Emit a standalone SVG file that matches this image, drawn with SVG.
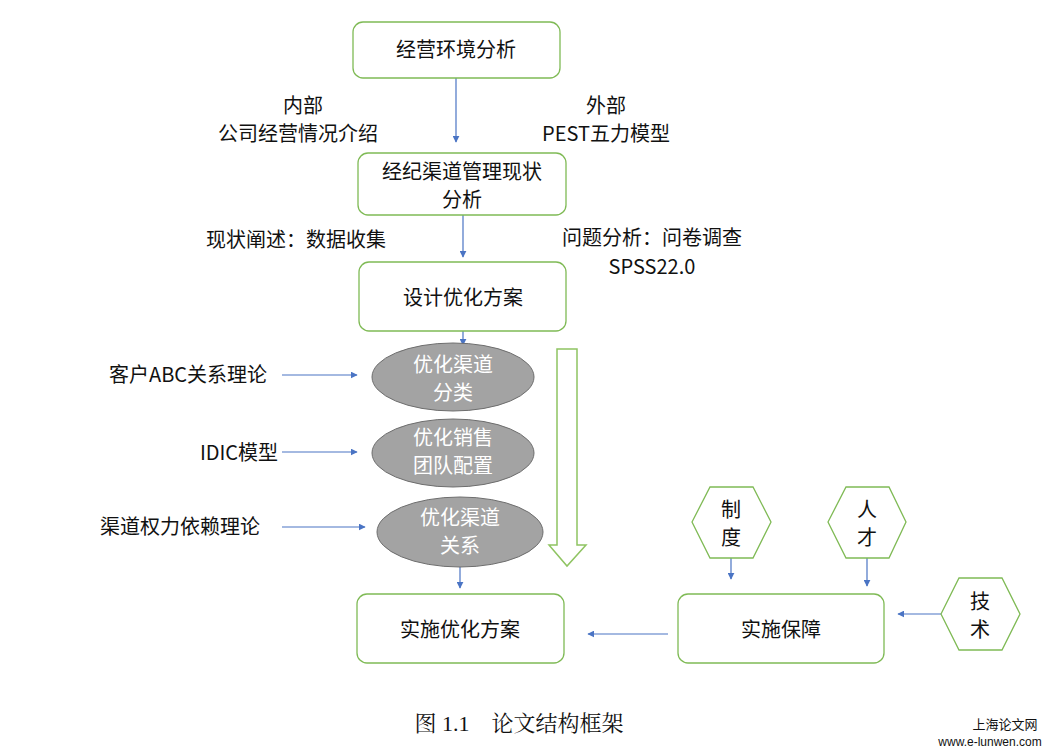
<svg xmlns="http://www.w3.org/2000/svg" width="1048" height="754" viewBox="0 0 1048 754">
<defs>
<style>
.box{fill:#fff;stroke:#7fba55;stroke-width:1.3}
.hex{fill:#fff;stroke:#7fba55;stroke-width:1.3}
.ell{fill:#a3a3a3;stroke:#6e6e6e;stroke-width:1}
.t{font-family:"Noto Sans CJK SC","Liberation Sans",sans-serif;font-size:20px;fill:#111;text-anchor:middle}
.tw{font-family:"Noto Sans CJK SC","Liberation Sans",sans-serif;font-size:20px;fill:#fff;text-anchor:middle}
.c{stroke:#4a74c4;stroke-width:1.2;fill:none;marker-end:url(#ah)}
.cap{font-family:"Liberation Serif","Noto Serif CJK SC","Noto Sans CJK SC",serif;font-size:22px;fill:#111;text-anchor:middle}
</style>
<marker id="ah" viewBox="0 0 10 10" refX="9" refY="5" markerWidth="7" markerHeight="7" orient="auto" markerUnits="userSpaceOnUse"><path d="M0,0 L10,5 L0,10 Z" fill="#4a74c4"/></marker>
</defs>
<rect width="1048" height="754" fill="#fff"/>
<g id="connectors">
<line class="c" x1="456" y1="78" x2="456" y2="142"/>
<line class="c" x1="463" y1="215" x2="463" y2="257"/>
<line class="c" x1="463" y1="331" x2="463" y2="345"/>
<line class="c" x1="282" y1="375" x2="357" y2="375"/>
<line class="c" x1="282" y1="452" x2="357" y2="452"/>
<line class="c" x1="282" y1="527" x2="365" y2="527"/>
<line class="c" x1="460" y1="567" x2="460" y2="588"/>
<line class="c" x1="668" y1="634" x2="588" y2="634"/>
<line class="c" x1="731" y1="558" x2="731" y2="579"/>
<line class="c" x1="867" y1="558" x2="867" y2="586"/>
<line class="c" x1="941" y1="614" x2="898" y2="614"/>
</g>
<g id="flow-arrow"><path d="M557,349 H577 V545 H586 L567,566 L549,545 H557 Z" fill="#fff" stroke="#8fc462" stroke-width="1.5"/></g>
<g id="n1"><rect class="box" x="353" y="22" width="207" height="56" rx="10"/><text class="t" x="456" y="57">经营环境分析</text></g>
<g id="lbl-inner"><text class="t" x="303" y="113">内部</text><text class="t" x="298" y="141">公司经营情况介绍</text></g>
<g id="lbl-outer"><text class="t" x="606" y="113">外部</text><text class="t" x="606" y="141">PEST五力模型</text></g>
<g id="n2"><rect class="box" x="358" y="153" width="208" height="62" rx="10"/><text class="t" x="462" y="179">经纪渠道管理现状</text><text class="t" x="462" y="207">分析</text></g>
<g id="lbl-status"><text class="t" x="296" y="247">现状阐述：数据收集</text></g>
<g id="lbl-problem"><text class="t" x="652" y="245">问题分析：问卷调查</text><text class="t" x="652" y="274">SPSS22.0</text></g>
<g id="n3"><rect class="box" x="359" y="262" width="207" height="69" rx="10"/><text class="t" x="463" y="305">设计优化方案</text></g>
<g id="e1"><ellipse class="ell" cx="453" cy="377" rx="81" ry="34"/><text class="tw" x="453" y="372">优化渠道</text><text class="tw" x="453" y="400">分类</text></g>
<g id="e2"><ellipse class="ell" cx="453" cy="453" rx="81" ry="34"/><text class="tw" x="453" y="445">优化销售</text><text class="tw" x="453" y="473">团队配置</text></g>
<g id="e3"><ellipse class="ell" cx="460" cy="532" rx="83" ry="35"/><text class="tw" x="460" y="525">优化渠道</text><text class="tw" x="460" y="553">关系</text></g>
<g id="l1"><text class="t" x="188" y="382">客户ABC关系理论</text></g>
<g id="l2"><text class="t" x="239" y="460">IDIC模型</text></g>
<g id="l3"><text class="t" x="180" y="534">渠道权力依赖理论</text></g>
<g id="n4"><rect class="box" x="357" y="594" width="207" height="69" rx="10"/><text class="t" x="460" y="637">实施优化方案</text></g>
<g id="n5"><rect class="box" x="678" y="594" width="206" height="69" rx="10"/><text class="t" x="781" y="637">实施保障</text></g>
<g id="h1"><polygon class="hex" points="692,522 710,487 753,487 771,522 753,558 710,558"/><text class="t" x="731" y="517">制</text><text class="t" x="731" y="545">度</text></g>
<g id="h2"><polygon class="hex" points="828,522 846,487 889,487 906,522 889,558 846,558"/><text class="t" x="867" y="517">人</text><text class="t" x="867" y="545">才</text></g>
<g id="h3"><polygon class="hex" points="941,614 959,578 1002,578 1020,614 1002,650 959,650"/><text class="t" x="980" y="609">技</text><text class="t" x="980" y="637">术</text></g>
<g id="caption"><text class="cap" x="519" y="731" xml:space="preserve">图 1.1    论文结构框架</text></g>
<g id="watermark"><text x="1005" y="729" font-family="Noto Sans CJK SC,sans-serif" font-size="13" fill="#111" text-anchor="middle">上海论文网</text><text x="990" y="746" font-family="Liberation Sans,sans-serif" font-size="12" fill="#111" text-anchor="middle">www.e-lunwen.com</text></g>
</svg>
